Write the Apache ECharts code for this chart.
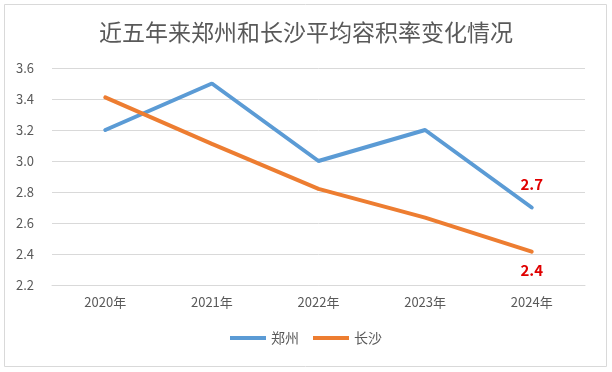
<!DOCTYPE html>
<html><head><meta charset="utf-8">
<script src="https://cdn.jsdelivr.net/npm/echarts@6/dist/echarts.min.js"></script>
<style>html,body{margin:0;padding:0;background:#fff}#c{width:612px;height:372px}</style>
</head><body><div id="c"></div>
<script>
const categories = ['2020年','2021年','2022年','2023年','2024年'];
const zhengzhou = [3.2, 3.5, 3.0, 3.2, 2.7];
const changsha = [3.41, 3.11, 2.82, 2.635, 2.415];
const changshaLabels = ['', '', '', '', '2.4'];
const zhengzhouLabels = ['', '', '', '', '2.7'];
const chart = echarts.init(document.getElementById('c'));
const font = '"Microsoft YaHei","Noto Sans CJK SC",sans-serif';
chart.setOption({
  animation: false,
  graphic: [{type:'rect', shape:{x:4.5,y:4.5,width:602,height:362}, style:{fill:'none', stroke:'#d9d9d9', lineWidth:1}}],
  title: {text:'近五年来郑州和长沙平均容积率变化情况', left:'center', top:16,
    textStyle:{fontFamily:font, fontSize:23, fontWeight:'normal', color:'#595959'}},
  legend: {bottom:22, left:'center', itemWidth:36, itemHeight:4, itemGap:14, icon:'rect',
    textStyle:{fontFamily:font, fontSize:14, color:'#595959'}, data:['郑州','长沙']},
  grid: {left:52, right:27, top:68, bottom:87},
  xAxis: {type:'category', data:categories, boundaryGap:true,
    axisLine:{lineStyle:{color:'#d9d9d9'}}, axisTick:{show:false},
    axisLabel:{fontFamily:font, fontSize:13, color:'#595959', margin:11}},
  yAxis: {type:'value', min:2.2, max:3.6, interval:0.2,
    axisLabel:{fontFamily:font, fontSize:13, color:'#595959', formatter:v=>v.toFixed(1), margin:18},
    axisLine:{show:false}, axisTick:{show:false},
    splitLine:{lineStyle:{color:'#d9d9d9'}}},
  series: [
    {name:'郑州', type:'line', data:zhengzhou, symbol:'circle', symbolSize:3, showSymbol:true, lineStyle:{width:4, color:'#5B9BD5', cap:'round'}, itemStyle:{color:'#5B9BD5', borderWidth:0},
     label:{show:true, position:'top', distance:14, formatter:p=>zhengzhouLabels[p.dataIndex], color:'#E00000', fontWeight:'bold', fontSize:15, fontFamily:font}},
    {name:'长沙', type:'line', data:changsha, symbol:'circle', symbolSize:3, showSymbol:true, lineStyle:{width:4, color:'#ED7D31', cap:'round'}, itemStyle:{color:'#ED7D31', borderWidth:0},
     label:{show:true, position:'bottom', distance:10, formatter:p=>changshaLabels[p.dataIndex], color:'#E00000', fontWeight:'bold', fontSize:15, fontFamily:font}}
  ]
});
</script></body></html>
